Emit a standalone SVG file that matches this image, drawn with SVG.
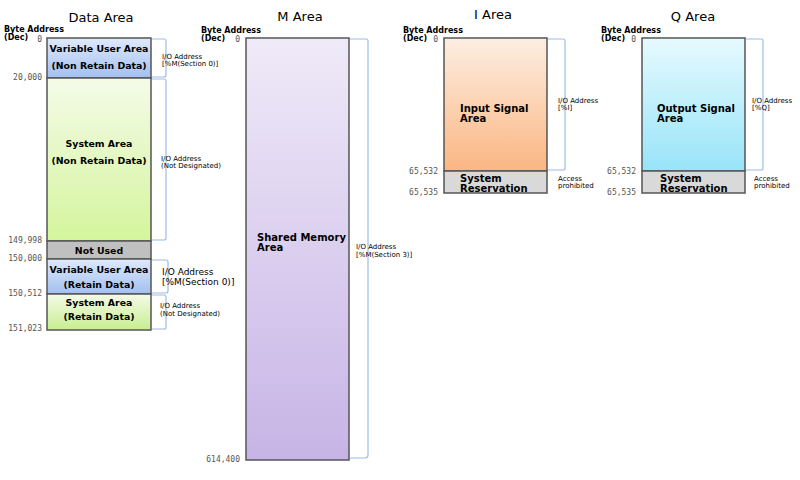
<svg xmlns="http://www.w3.org/2000/svg" width="800" height="480" viewBox="0 0 800 480">
<defs>
<linearGradient id="gBlue" x1="0" y1="0" x2="0" y2="1"><stop offset="0" stop-color="#dfe9fb"/><stop offset="1" stop-color="#a2c0f0"/></linearGradient>
<linearGradient id="gGreen" x1="0" y1="0" x2="0" y2="1"><stop offset="0" stop-color="#f4fbe8"/><stop offset="1" stop-color="#d4f59c"/></linearGradient>
<linearGradient id="gGreen2" x1="0" y1="0" x2="0" y2="1"><stop offset="0" stop-color="#f4fbe8"/><stop offset="1" stop-color="#c8ee90"/></linearGradient>
<linearGradient id="gPurple" x1="0" y1="0" x2="0" y2="1"><stop offset="0" stop-color="#efeaf8"/><stop offset="1" stop-color="#c7b4e6"/></linearGradient>
<linearGradient id="gOrange" x1="0" y1="0" x2="0" y2="1"><stop offset="0" stop-color="#fdeee2"/><stop offset="1" stop-color="#fbb682"/></linearGradient>
<linearGradient id="gCyan" x1="0" y1="0" x2="0" y2="1"><stop offset="0" stop-color="#e6fafe"/><stop offset="1" stop-color="#98e4f8"/></linearGradient>
</defs>
<style>
text{font-family:"DejaVu Sans","Liberation Sans",sans-serif;fill:#000}
.title{font-size:13px;text-anchor:middle}
.ba{font-size:8px;font-weight:bold}
.addr{font-size:8px;fill:#555;text-anchor:end;font-family:"DejaVu Sans Mono","Liberation Mono",monospace}
.box{stroke:#555;stroke-width:1.5}
.lbl{font-size:9.4px;font-weight:bold;text-anchor:middle}
.lbll{font-size:10px;font-weight:bold}
.io{font-size:7px}
.io2{font-size:9px}
.br{fill:none;stroke:#9dbde6;stroke-width:1.2}
</style>

<text class="title" x="101" y="22">Data Area</text>
<text class="title" x="300" y="21">M Area</text>
<text class="title" x="493" y="19">I Area</text>
<text class="title" x="693" y="21">Q Area</text>

<g id="data-area">
<text class="ba" x="4" y="32">Byte Address</text>
<text class="ba" x="4" y="40">(Dec)</text>
<text class="addr" x="42" y="42">0</text>
<text class="addr" x="42" y="80">20,000</text>
<text class="addr" x="42" y="243">149,998</text>
<text class="addr" x="42" y="261">150,000</text>
<text class="addr" x="42" y="296">150,512</text>
<text class="addr" x="42" y="331">151,023</text>
<g id="vua-nonretain">
<rect class="box" x="47" y="38" width="104" height="40" fill="url(#gBlue)"/>
<text class="lbl" x="99" y="52">Variable User Area</text>
<text class="lbl" x="99" y="69">(Non Retain Data)</text>
</g>
<g id="sys-nonretain">
<rect class="box" x="47" y="78" width="104" height="163" fill="url(#gGreen)"/>
<text class="lbl" x="99" y="147">System Area</text>
<text class="lbl" x="99" y="164">(Non Retain Data)</text>
</g>
<g id="not-used">
<rect class="box" x="47" y="241" width="104" height="18" fill="#c0c0c0"/>
<text class="lbl" x="99" y="254">Not Used</text>
</g>
<g id="vua-retain">
<rect class="box" x="47" y="259" width="104" height="35" fill="url(#gBlue)"/>
<text class="lbl" x="99" y="273">Variable User Area</text>
<text class="lbl" x="99" y="288">(Retain Data)</text>
</g>
<g id="sys-retain">
<rect class="box" x="47" y="294" width="104" height="36" fill="url(#gGreen2)"/>
<text class="lbl" x="99" y="306">System Area</text>
<text class="lbl" x="99" y="320">(Retain Data)</text>
</g>
</g>

<g id="m-area">
<text class="ba" x="201" y="33">Byte Address</text>
<text class="ba" x="201" y="41">(Dec)</text>
<text class="addr" x="240" y="42">0</text>
<text class="addr" x="240" y="462">614,400</text>
<rect class="box" x="246" y="38" width="103" height="422" fill="url(#gPurple)"/>
<text class="lbll" x="257" y="241">Shared Memory</text>
<text class="lbll" x="257" y="251">Area</text>
</g>

<g id="i-area">
<text class="ba" x="403" y="33">Byte Address</text>
<text class="ba" x="403" y="41">(Dec)</text>
<text class="addr" x="438" y="42">0</text>
<text class="addr" x="438" y="174">65,532</text>
<text class="addr" x="438" y="195">65,535</text>
<rect class="box" x="444" y="38" width="103" height="133" fill="url(#gOrange)"/>
<text class="lbll" x="460" y="112">Input Signal</text>
<text class="lbll" x="460" y="122">Area</text>
<rect class="box" x="444" y="171" width="103" height="22" fill="#d9d9d9"/>
<text class="lbll" x="460" y="182">System</text>
<text class="lbll" x="460" y="192">Reservation</text>
</g>

<g id="q-area">
<text class="ba" x="601" y="33">Byte Address</text>
<text class="ba" x="601" y="41">(Dec)</text>
<text class="addr" x="636" y="42">0</text>
<text class="addr" x="636" y="174">65,532</text>
<text class="addr" x="636" y="195">65,535</text>
<rect class="box" x="642" y="38" width="103" height="133" fill="url(#gCyan)"/>
<text class="lbll" x="657" y="112">Output Signal</text>
<text class="lbll" x="657" y="122">Area</text>
<rect class="box" x="642" y="171" width="103" height="22" fill="#d9d9d9"/>
<text class="lbll" x="660" y="182">System</text>
<text class="lbll" x="660" y="192">Reservation</text>
</g>

<g id="connectors">
<path class="br" d="M152,39 H164 Q166,39 166,41 V75 Q166,77 164,77 H152"/>
<path class="br" d="M152,79 H164 Q166,79 166,81 V238 Q166,240 164,240 H152"/>
<path class="br" d="M152,260 H166 Q168,260 168,262 V291 Q168,293 166,293 H152"/>
<path class="br" d="M152,295 H164 Q166,295 166,297 V327 Q166,329 164,329 H152"/>
<path class="br" d="M350,39 H366 Q368,39 368,41 V455 Q368,458 365,458 H350"/>
<path class="br" d="M548,39 H563 Q565,39 565,41 V168 Q565,170 563,170 H548"/>
<path class="br" d="M746,39 H761 Q763,39 763,41 V168 Q763,170 761,170 H746"/>
</g>

<g id="labels">
<text class="io" x="162" y="59">I/O Address</text>
<text class="io" x="162" y="66">[%M(Section 0)]</text>
<text class="io" x="161" y="161">I/O Address</text>
<text class="io" x="161" y="168">(Not Designated)</text>
<text class="io2" x="162" y="275">I/O Address</text>
<text class="io2" x="162" y="285">[%M(Section 0)]</text>
<text class="io" x="160" y="308">I/O Address</text>
<text class="io" x="160" y="316">(Not Designated)</text>
<text class="io" x="356" y="249">I/O Address</text>
<text class="io" x="356" y="257">[%M(Section 3)]</text>
<text class="io" x="558" y="103">I/O Address</text>
<text class="io" x="558" y="110">[%I]</text>
<text class="io" x="558" y="181">Access</text>
<text class="io" x="558" y="188">prohibited</text>
<text class="io" x="752" y="103">I/O Address</text>
<text class="io" x="752" y="110">[%Q]</text>
<text class="io" x="754" y="181">Access</text>
<text class="io" x="754" y="188">prohibited</text>
</g>
</svg>
